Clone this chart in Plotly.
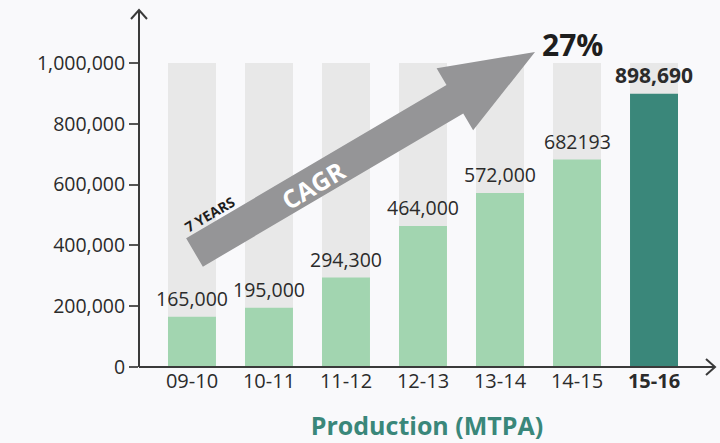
import numpy as np
import plotly.graph_objects as go

# ---- data ----
categories = ["09-10", "10-11", "11-12", "12-13", "13-14", "14-15", "15-16"]
tick_text = ["09-10", "10-11", "11-12", "12-13", "13-14", "14-15", "<b>15-16</b>"]
production = [165000, 195000, 294300, 464000, 572000, 682193, 898690]
value_labels = ["165,000", "195,000", "294,300", "464,000", "572,000", "682193", "<b>898,690</b>"]
capacity_max = [1000000] * 7
y_ticks = [0, 200000, 400000, 600000, 800000, 1000000]
cagr_text = "27%"

# ---- layout geometry (pixels) ----
W, H = 720, 443
L, R, T, B = 139, 5, 10, 76
PW, PH = W - L - R, H - T - B

def px(x, y):
    return (x - L) / PW, (H - B - y) / PH

GREEN = "#a2d5b0"
TEAL = "#3a877a"
GREY_BAR = "#e8e8e8"
TXT = "#2b2b2b"
AXC = "#555555"
FONT = "Open Sans"

xs = list(range(len(categories)))
colors = [GREEN] * 6 + [TEAL]

fig = go.Figure()
fig.add_trace(go.Bar(x=xs, y=capacity_max, marker=dict(color=GREY_BAR, line_width=0),
                     width=0.623, hoverinfo="skip", showlegend=False))
fig.add_trace(go.Bar(x=xs, y=production, marker=dict(color=colors, line_width=0),
                     width=0.623, showlegend=False))

for x, v, lab in zip(xs, production, value_labels):
    fig.add_annotation(x=x, y=v, text=lab, showarrow=False, xanchor="center", yanchor="bottom", yshift=3,
                       font=dict(family=FONT, size=19.5 if x < 6 else 21, color=TXT))

# axes lines with arrowheads
shapes = []
x0, y0 = px(139, 367)
x1, y1 = px(715, 367)
shapes.append(dict(type="line", xref="paper", yref="paper", x0=x0, y0=y0, x1=x1, y1=y1,
                   line=dict(color="#3a3a3a", width=2)))
xa, ya = px(139, 10)
shapes.append(dict(type="line", xref="paper", yref="paper", x0=x0, y0=y0, x1=xa, y1=ya,
                   line=dict(color="#3a3a3a", width=2)))

def path_from(points, close=False):
    s = ""
    for i, (a, b) in enumerate(points):
        p = px(a, b)
        s += ("M" if i == 0 else "L") + f"{p[0]:.5f},{p[1]:.5f} "
    if close:
        s += "Z"
    return s

shapes.append(dict(type="path", xref="paper", yref="paper",
                   path=path_from([(131, 19), (139, 10), (147, 19)]),
                   line=dict(color="#3a3a3a", width=2)))
shapes.append(dict(type="path", xref="paper", yref="paper",
                   path=path_from([(706, 359), (715, 367), (706, 375)]),
                   line=dict(color="#3a3a3a", width=2)))

# big CAGR arrow
tail = np.array([194.5, 252.5])
tip = np.array([535.0, 52.0])
d = tip - tail
length = np.hypot(*d)
u = d / length
n = np.array([u[1], -u[0]])  # perpendicular
sw, hw, hl = 16.5, 36.0, 93.0
base = tip - u * hl
pts = [tail + n * sw, base + n * sw, base + n * hw, tip, base - n * hw, base - n * sw, tail - n * sw]
shapes.append(dict(type="path", xref="paper", yref="paper",
                   path=path_from([tuple(p) for p in pts], close=True),
                   fillcolor="#959597", line=dict(width=0)))

ang = -np.degrees(np.arctan2(-d[1], d[0]))

def label(xp, yp, text, size, color, angle=0):
    a, b = px(xp, yp)
    fig.add_annotation(xref="paper", yref="paper", x=a, y=b, text=text, showarrow=False,
                       xanchor="center", yanchor="middle", textangle=angle,
                       font=dict(family=FONT, size=size, color=color))

label(572, 45, f"<b>{cagr_text}</b>", 30, "#1e1e1e")
label(209, 214, "<b>7 YEARS</b>", 14, "#1e1e1e", ang)
label(313, 185, "<b>CAGR</b>", 25, "white", ang)

fig.update_layout(
    width=W, height=H,
    margin=dict(l=L, r=R, t=T, b=B, autoexpand=False),
    barmode="overlay",
    paper_bgcolor="#f9f9fb",
    plot_bgcolor="rgba(0,0,0,0)",
    shapes=shapes,
    font=dict(family=FONT, color=TXT),
    xaxis=dict(range=[-0.688, 6.792], tickmode="array", tickvals=xs, ticktext=tick_text,
               showgrid=False, zeroline=False, showline=False, ticks="", automargin=False,
               tickfont=dict(size=20, color=TXT),
               title=dict(text="<b>Production (MTPA)</b>", standoff=24,
                          font=dict(size=25, color=TEAL, family=FONT))),
    yaxis=dict(range=[0, 1174000], tickmode="array", tickvals=y_ticks, tickformat=",",
               showgrid=False, zeroline=False, showline=False, automargin=False,
               ticks="outside", ticklen=9, tickwidth=1.5, tickcolor=AXC,
               tickfont=dict(size=19.5, color=TXT)),
)

fig.write_html("out.html", config={"displayModeBar": False},
               post_script="document.body.style.margin='0';document.body.style.background='#f9f9fb';")
